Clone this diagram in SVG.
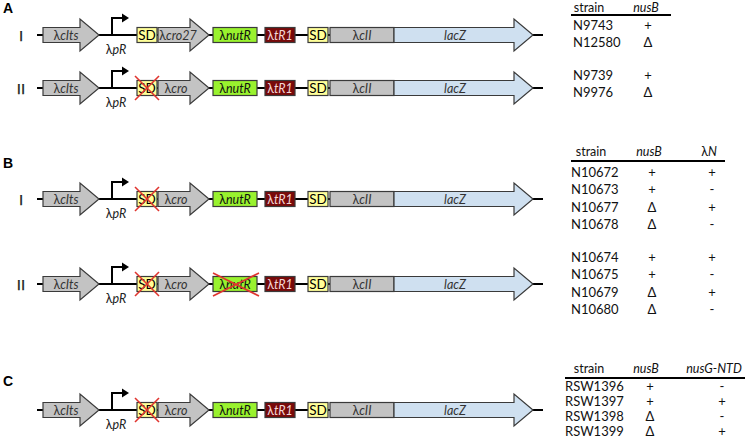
<svg xmlns="http://www.w3.org/2000/svg" width="747" height="442" viewBox="0 0 747 442">
<style>
  text { font-family: Lato, "Liberation Sans", "DejaVu Sans", sans-serif; }
  .panel { font-family: "Liberation Sans", Arial, sans-serif; font-weight: bold; font-size: 14px; fill: #000; }
  .roman { font-family: "Liberation Sans", Arial, sans-serif; font-size: 15px; fill: #1a1a1a; stroke: #1a1a1a; stroke-width: 0.25; text-anchor: middle; }
  .dna { stroke: #000; stroke-width: 2; fill: none; }
  .gene { fill: #c3c3c3; stroke: #3a3a3a; stroke-width: 1.2; }
  .sd { fill: #ffff99; stroke: #3a3a3a; stroke-width: 1.2; }
  .nut { fill: #99f22e; stroke: #3a3a3a; stroke-width: 1.2; }
  .tr { fill: #780a0a; stroke: #3a3a3a; stroke-width: 1.2; }
  .lac { fill: #cfe0f0; stroke: #3a3a3a; stroke-width: 1.2; }
  .glab { font-size: 12.5px; fill: #333; text-anchor: middle; }
  .sdlab { font-size: 13.5px; fill: #000; text-anchor: middle; }
  .trlab { font-size: 12.5px; fill: #f3d6d6; text-anchor: middle; }
  .it { font-style: italic; }
  .prom { stroke: #000; stroke-width: 2; fill: none; }
  .x { stroke: #e0352f; stroke-width: 1.6; fill: none; }
  .th { font-size: 12.5px; fill: #111; text-anchor: middle; }
  .tc { font-size: 13px; fill: #111; }
  .tv { font-size: 13px; fill: #111; text-anchor: middle; }
  .rule { stroke: #000; stroke-width: 2; }
</style>
<defs>
  <g id="backbone">
    <line class="dna" x1="37" y1="0" x2="543" y2="0"/>
  </g>
  <g id="cltsGene">
    <path class="gene" d="M43,-7.5 H80 V-16 L99,0 L80,16 V7.5 H43 Z"/>
    <text class="glab" x="66" y="4.5">λ<tspan class="it">cIts</tspan></text>
  </g>
  <g id="promoter">
    <path class="prom" d="M112,0 V-17 H123"/>
    <polygon points="122,-21.5 129,-17 122,-12.5" fill="#000"/>
    <text class="glab" x="116" y="18.5" style="fill:#222">λ<tspan class="it">pR</tspan></text>
  </g>
  <g id="sd1">
    <rect class="sd" x="137" y="-7.5" width="20" height="15"/>
    <text class="sdlab" x="147" y="5">SD</text>
  </g>
  <path id="croShape" class="gene" d="M158,-7.5 H190 V-16 L209,0 L190,16 V7.5 H158 Z"/>
  <g id="nutShape">
    <rect class="nut" x="213" y="-7.5" width="44" height="15"/>
    <text class="glab" x="235" y="4.5" style="fill:#111">λ<tspan class="it">nutR</tspan></text>
  </g>
  <g id="downstream">
    <rect class="tr" x="265" y="-7.5" width="30" height="15"/>
    <text class="trlab" x="280" y="4.5">λ<tspan class="it">tR1</tspan></text>
    <rect class="sd" x="308" y="-7.5" width="20" height="15"/>
    <text class="sdlab" x="318" y="5">SD</text>
    <rect class="gene" x="330" y="-7.5" width="64" height="15"/>
    <text class="glab" x="362" y="4.5">λ<tspan class="it">cII</tspan></text>
    <path class="lac" d="M394,-7.5 H514 V-16 L533,0 L514,16 V7.5 H394 Z"/>
    <text class="glab it" x="455" y="4.5">lacZ</text>
  </g>
  <g id="sdCross">
    <line class="x" x1="135" y1="-12" x2="159" y2="12"/>
    <line class="x" x1="159" y1="-12" x2="135" y2="12"/>
  </g>
  <g id="nutCross">
    <line class="x" x1="213" y1="-11" x2="259" y2="12"/>
    <line class="x" x1="259" y1="-11" x2="213" y2="12"/>
  </g>
</defs>

<!-- Panel labels -->
<text class="panel" x="3" y="13">A</text>
<text class="panel" x="3" y="168">B</text>
<text class="panel" x="3" y="386">C</text>

<!-- Connectors (DNA backbones) -->
<g id="connectors">
  <use href="#backbone" transform="translate(0,35)"/>
  <use href="#backbone" transform="translate(0,88)"/>
  <use href="#backbone" transform="translate(0,199)"/>
  <use href="#backbone" transform="translate(0,284)"/>
  <use href="#backbone" transform="translate(0,410)"/>
</g>

<!-- Panel A row I -->
<g id="A-I" transform="translate(0,35)">
  <text class="roman" x="21" y="5.5">I</text>
  <g id="A-I-clts"><use href="#cltsGene"/></g>
  <g id="A-I-pR"><use href="#promoter"/></g>
  <g id="A-I-SD"><use href="#sd1"/></g>
  <g id="A-I-cro27"><use href="#croShape"/><text class="glab" x="178" y="4.5">λ<tspan class="it">cro27</tspan></text></g>
  <g id="A-I-nutR"><use href="#nutShape"/></g>
  <g id="A-I-rest"><use href="#downstream"/></g>
</g>

<!-- Panel A row II -->
<g id="A-II" transform="translate(0,88)">
  <text class="roman" x="21" y="5.5">II</text>
  <g id="A-II-clts"><use href="#cltsGene"/></g>
  <g id="A-II-pR"><use href="#promoter"/></g>
  <g id="A-II-SD"><use href="#sd1"/><use href="#sdCross"/></g>
  <g id="A-II-cro"><use href="#croShape"/><text class="glab" x="176" y="4.5">λ<tspan class="it">cro</tspan></text></g>
  <g id="A-II-nutR"><use href="#nutShape"/></g>
  <g id="A-II-rest"><use href="#downstream"/></g>
</g>

<!-- Panel B row I -->
<g id="B-I" transform="translate(0,199)">
  <text class="roman" x="21" y="5.5">I</text>
  <g id="B-I-clts"><use href="#cltsGene"/></g>
  <g id="B-I-pR"><use href="#promoter"/></g>
  <g id="B-I-SD"><use href="#sd1"/><use href="#sdCross"/></g>
  <g id="B-I-cro"><use href="#croShape"/><text class="glab" x="176" y="4.5">λ<tspan class="it">cro</tspan></text></g>
  <g id="B-I-nutR"><use href="#nutShape"/></g>
  <g id="B-I-rest"><use href="#downstream"/></g>
</g>

<!-- Panel B row II -->
<g id="B-II" transform="translate(0,284)">
  <text class="roman" x="21" y="5.5">II</text>
  <g id="B-II-clts"><use href="#cltsGene"/></g>
  <g id="B-II-pR"><use href="#promoter"/></g>
  <g id="B-II-SD"><use href="#sd1"/><use href="#sdCross"/></g>
  <g id="B-II-cro"><use href="#croShape"/><text class="glab" x="176" y="4.5">λ<tspan class="it">cro</tspan></text></g>
  <g id="B-II-nutR"><use href="#nutShape"/><use href="#nutCross"/></g>
  <g id="B-II-rest"><use href="#downstream"/></g>
</g>

<!-- Panel C -->
<g id="C-row" transform="translate(0,410)">
  <g id="C-clts"><use href="#cltsGene"/></g>
  <g id="C-pR"><use href="#promoter"/></g>
  <g id="C-SD"><use href="#sd1"/><use href="#sdCross"/></g>
  <g id="C-cro"><use href="#croShape"/><text class="glab" x="176" y="4.5">λ<tspan class="it">cro</tspan></text></g>
  <g id="C-nutR"><use href="#nutShape"/></g>
  <g id="C-rest"><use href="#downstream"/></g>
</g>

<!-- Table A -->
<g id="table-A">
  <text class="th" x="589" y="11.5">strain</text>
  <text class="th it" x="646" y="11.5">nusB</text>
  <line class="rule" x1="571" y1="15" x2="671" y2="15"/>
  <text class="tc" x="573" y="30">N9743</text><text class="tv" x="648" y="30">+</text>
  <text class="tc" x="573" y="47">N12580</text><text class="tv" x="648" y="47">Δ</text>
  <text class="tc" x="573" y="80">N9739</text><text class="tv" x="648" y="80">+</text>
  <text class="tc" x="573" y="97">N9976</text><text class="tv" x="648" y="97">Δ</text>
</g>

<!-- Table B -->
<g id="table-B">
  <text class="th" x="591" y="156">strain</text>
  <text class="th it" x="649" y="156">nusB</text>
  <text class="th" x="709" y="156">λ<tspan class="it">N</tspan></text>
  <line class="rule" x1="571" y1="161" x2="725" y2="161"/>
  <text class="tc" x="571" y="177">N10672</text><text class="tv" x="652" y="177">+</text><text class="tv" x="712" y="177">+</text>
  <text class="tc" x="571" y="194">N10673</text><text class="tv" x="652" y="194">+</text><text class="tv" x="712" y="194">-</text>
  <text class="tc" x="571" y="212">N10677</text><text class="tv" x="652" y="212">Δ</text><text class="tv" x="712" y="212">+</text>
  <text class="tc" x="571" y="229">N10678</text><text class="tv" x="652" y="229">Δ</text><text class="tv" x="712" y="229">-</text>
  <text class="tc" x="571" y="262">N10674</text><text class="tv" x="652" y="262">+</text><text class="tv" x="712" y="262">+</text>
  <text class="tc" x="571" y="279">N10675</text><text class="tv" x="652" y="279">+</text><text class="tv" x="712" y="279">-</text>
  <text class="tc" x="571" y="297">N10679</text><text class="tv" x="652" y="297">Δ</text><text class="tv" x="712" y="297">+</text>
  <text class="tc" x="571" y="314">N10680</text><text class="tv" x="652" y="314">Δ</text><text class="tv" x="712" y="314">-</text>
</g>

<!-- Table C -->
<g id="table-C">
  <text class="th" x="589" y="373">strain</text>
  <text class="th it" x="646" y="373">nusB</text>
  <text class="th it" x="714" y="373">nusG-NTD</text>
  <line class="rule" x1="565" y1="378" x2="745" y2="378"/>
  <text class="tc" x="565" y="391">RSW1396</text><text class="tv" x="650" y="391">+</text><text class="tv" x="722" y="391">-</text>
  <text class="tc" x="565" y="406">RSW1397</text><text class="tv" x="650" y="406">+</text><text class="tv" x="722" y="406">+</text>
  <text class="tc" x="565" y="421">RSW1398</text><text class="tv" x="650" y="421">Δ</text><text class="tv" x="722" y="421">-</text>
  <text class="tc" x="565" y="436">RSW1399</text><text class="tv" x="650" y="436">Δ</text><text class="tv" x="722" y="436">+</text>
</g>
</svg>
